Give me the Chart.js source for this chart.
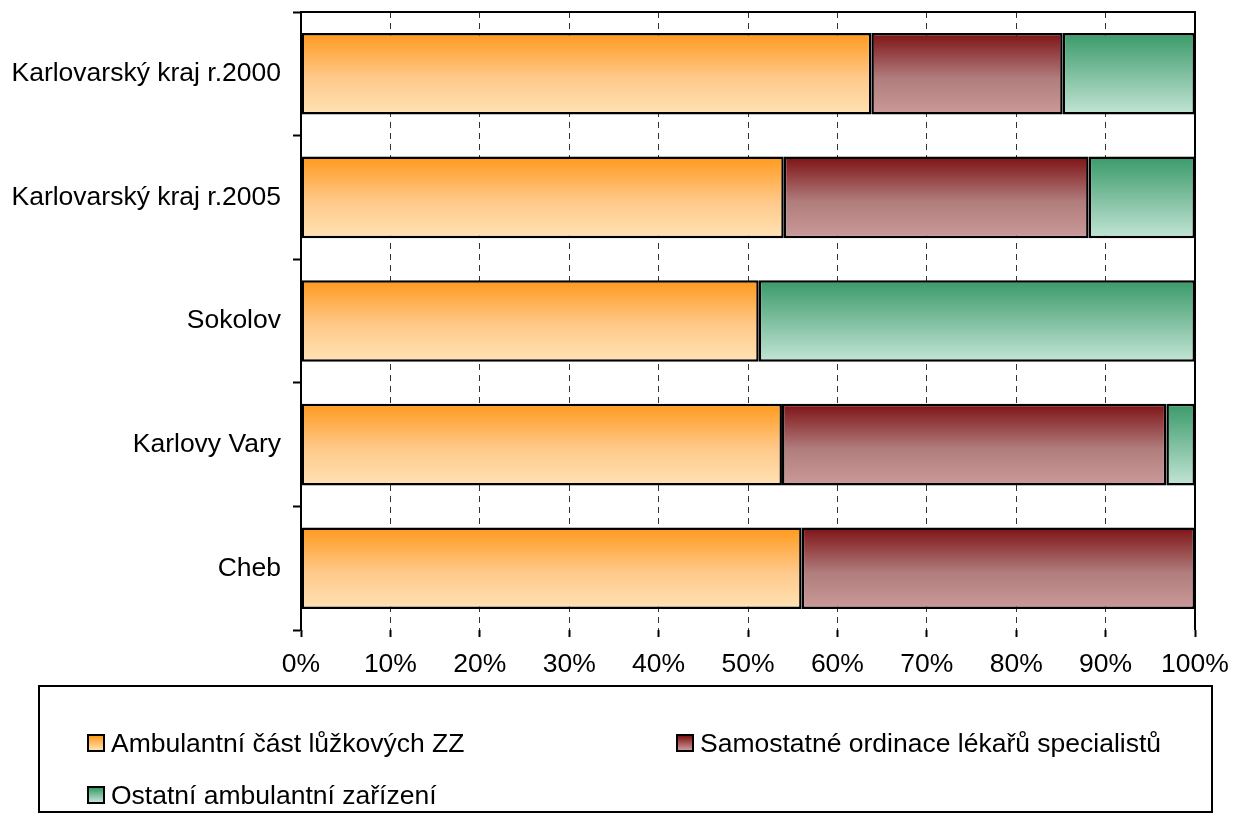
<!DOCTYPE html>
<html>
<head>
<meta charset="utf-8">
<script src="https://cdn.jsdelivr.net/npm/chart.js@4/dist/chart.umd.min.js"></script>
<style>
  html, body { margin: 0; padding: 0; background: #fff; }
  #wrap { position: relative; width: 1233px; height: 821px; }
  canvas { position: absolute; left: 0; top: 0; }
  #legend { position: absolute; left: 38px; top: 685px; width: 1171px; height: 124px;
    border: 2px solid #000; font-family: "Liberation Sans", Arial, sans-serif; font-size: 26.5px; color: #000; }
  .item { position: absolute; display: flex; align-items: center; white-space: nowrap; height: 30px; }
  .sw { width: 14px; height: 14px; border: 2px solid #000; margin-right: 6px; flex: none; }
</style>
</head>
<body>
<div id="wrap">
  <canvas id="c" width="1233" height="821"></canvas>
  <div id="legend"></div>
</div>
<script>
const categories = ["Karlovarský kraj r.2000", "Karlovarský kraj r.2005", "Sokolov", "Karlovy Vary", "Cheb"];
const seriesNames = ["Ambulantní část lůžkových ZZ", "Samostatné ordinace lékařů specialistů", "Ostatní ambulantní zařízení"];
const ambulantniCast = [63.8, 54.0, 51.2, 53.8, 56.0];
const samostatneOrdinace = [21.4, 34.1, 0, 43.0, 44.0];
const ostatniZarizeni = [14.8, 11.9, 48.8, 3.2, 0];
const xTicks = [0, 10, 20, 30, 40, 50, 60, 70, 80, 90, 100];

const gradStops = [
  ["#FF991C", "#FFC98A", "#FFE2B4"],
  ["#7E1215", "#B07C7C", "#CC9A9A"],
  ["#399A69", "#86C3A5", "#C2E5D5"]
];

const BAR_RATIO = 0.66;
function barGradient(stops) {
  return function(ctx) {
    const chart = ctx.chart;
    const y = chart.scales && chart.scales.y;
    if (!y || !chart.chartArea || ctx.dataIndex === undefined) return stops[1];
    const c = y.getPixelForValue(ctx.dataIndex);
    const half = (y.height / categories.length) * BAR_RATIO / 2;
    const g = chart.ctx.createLinearGradient(0, c - half, 0, c + half);
    g.addColorStop(0, stops[0]);
    g.addColorStop(0.55, stops[1]);
    g.addColorStop(1, stops[2]);
    return g;
  };
}

const seriesValues = [ambulantniCast, samostatneOrdinace, ostatniZarizeni];
const datasets = seriesNames.map((n, i) => ({
  label: n,
  data: seriesValues[i],
  backgroundColor: barGradient(gradStops[i]),
  borderColor: "#000",
  borderWidth: 2.5,
  borderSkipped: false,
  categoryPercentage: 1,
  barPercentage: BAR_RATIO
}));

const frame = {
  id: "frame",
  afterDraw(chart) {
    const a = chart.chartArea, ctx = chart.ctx;
    ctx.save();
    ctx.strokeStyle = "#000";
    ctx.lineWidth = 2;
    ctx.beginPath();
    ctx.moveTo(a.left, a.top);
    ctx.lineTo(a.right, a.top);
    ctx.lineTo(a.right, a.bottom);
    ctx.stroke();
    ctx.restore();
  }
};

const font = { family: "'Liberation Sans', Arial, sans-serif", size: 26.5 };
function noPad(s) { s.paddingTop = 0; s.paddingBottom = 0; s.paddingLeft = 0; s.paddingRight = 0; }

new Chart(document.getElementById("c"), {
  type: "bar",
  data: { labels: categories, datasets },
  plugins: [frame],
  options: {
    indexAxis: "y",
    responsive: false,
    animation: false,
    layout: { padding: { top: 12, right: 38, left: 0, bottom: 0 } },
    plugins: { legend: { display: false }, tooltip: { enabled: false } },
    scales: {
      x: {
        stacked: true,
        min: 0, max: 100,
        afterBuildTicks(s) { s.ticks = xTicks.map(v => ({ value: v })); },
        afterFit(s) { s.height = 191; noPad(s); },
        ticks: { font, color: "#000", padding: 12, maxRotation: 0, callback: v => v + "%" },
        grid: { color: "#333", lineWidth: 1, tickColor: "#000", tickWidth: 2, tickLength: 7, tickBorderDash: [] },
        border: { display: false, dash: [6, 5] }
      },
      y: {
        stacked: true,
        afterFit(s) { s.width = 301; noPad(s); },
        ticks: { font, color: "#000", padding: 12 },
        grid: { drawOnChartArea: false, tickColor: "#000", tickWidth: 2, tickLength: 8, offset: true },
        border: { display: true, color: "#000", width: 2 }
      }
    }
  }
});

// HTML legend built from series names
const legendPos = [[47, 56], [636, 56], [47, 108]];
const legendEl = document.getElementById("legend");
seriesNames.forEach((n, i) => {
  const it = document.createElement("div");
  it.className = "item";
  it.style.left = legendPos[i][0] + "px";
  it.style.top = (legendPos[i][1] - 15) + "px";
  const sw = document.createElement("div");
  sw.className = "sw";
  sw.style.background = "linear-gradient(" + gradStops[i][0] + "," + gradStops[i][2] + ")";
  const t = document.createElement("span");
  t.textContent = n;
  it.appendChild(sw); it.appendChild(t);
  legendEl.appendChild(it);
});
</script>
</body>
</html>
